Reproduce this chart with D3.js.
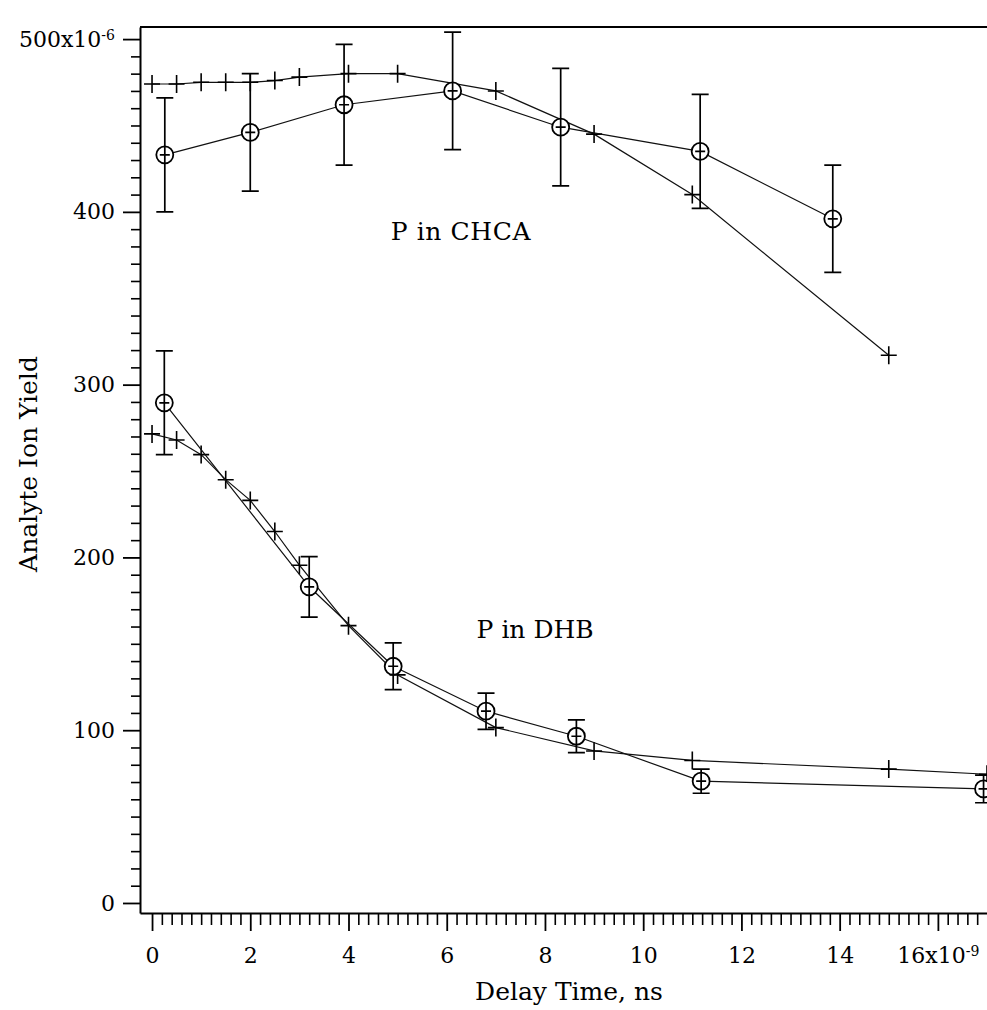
<!DOCTYPE html>
<html>
<head>
<meta charset="utf-8">
<script src="https://cdn.jsdelivr.net/npm/d3@7"></script>
<style>
  html, body { margin: 0; padding: 0; background: #fff; }
  svg { display: block; }
  text { font-family: "DejaVu Serif", "Liberation Serif", serif; fill: #000; }
</style>
</head>
<body>
<div id="chart"></div>
<script>
// Delay time (ns) and analyte ion yield (x10^-6) for P in two matrices.
// Circles carry ± error bars, crosses are the model curve.
const chcaCircleTime  = [0.26, 2.0, 3.91, 6.12, 8.32, 11.16, 13.86];
const chcaCircleYield = [433, 446, 462, 470, 449, 435, 396];
const chcaCircleErr   = [33, 34, 35, 34, 34, 33, 31];

const chcaCrossTime  = [0, 0.5, 1, 1.5, 2, 2.5, 3, 4, 5, 7, 9, 11, 15];
const chcaCrossYield = [474, 474, 475, 475, 475, 476, 478, 480, 480, 470, 445, 410, 317];

const dhbCircleTime  = [0.25, 3.2, 4.91, 6.8, 8.64, 11.18, 16.93];
const dhbCircleYield = [289.5, 183, 137, 111, 96.5, 70.5, 66];
const dhbCircleErr   = [30, 17.5, 13.5, 10.5, 9.5, 7, 8];

const dhbCrossTime  = [0, 0.5, 1, 1.5, 2, 2.5, 3, 4, 5, 7, 9, 11, 15, 17];
const dhbCrossYield = [271.5, 268, 259.5, 245, 233, 215, 195.5, 160.5, 132, 101.5, 88, 82.5, 77.5, 74.5];

const yMajorTicks = [0, 100, 200, 300, 400, 500];
const xMajorTicks = [0, 2, 4, 6, 8, 10, 12, 14, 16];
const yTitle = "Analyte Ion Yield";
const xTitle = "Delay Time, ns";
const seriesLabels = ["P in CHCA", "P in DHB"];

const W = 987, H = 1010;
const svg = d3.select("#chart").append("svg").attr("width", W).attr("height", H);

const padL = 140, padR = 987, padT = 27, padB = 913;
const x = d3.scaleLinear().domain([-0.245, 17.0]).range([padL, padR]);
const y = d3.scaleLinear().domain([-5.8, 507]).range([padB, padT]);

const FS = 22;      // tick labels
const FT = 25;      // titles and annotations

// minor ticks
const yMinor = d3.range(0, 501, 10).filter(v => v % 100 !== 0);
svg.append("g").attr("transform", `translate(${padL},0)`)
  .call(d3.axisLeft(y).tickValues(yMinor).tickSize(9).tickSizeOuter(0).tickFormat(""))
  .call(g => g.select(".domain").remove())
  .call(g => g.selectAll("line").attr("stroke", "#000").attr("stroke-width", 1.6));

const xMinor = d3.range(0, 85).map(i => i * 0.2).filter(v => Math.abs(v / 2 - Math.round(v / 2)) > 1e-6);
svg.append("g").attr("transform", `translate(0,${padB})`)
  .call(d3.axisBottom(x).tickValues(xMinor).tickSize(12).tickSizeOuter(0).tickFormat(""))
  .call(g => g.select(".domain").remove())
  .call(g => g.selectAll("line").attr("stroke", "#000").attr("stroke-width", 1.6));

// major axes
const yAxis = svg.append("g").attr("transform", `translate(${padL},0)`)
  .call(d3.axisLeft(y).tickValues(yMajorTicks).tickSize(17).tickSizeOuter(0).tickPadding(8)
    .tickFormat(d => d === 500 ? "" : d));
yAxis.select(".domain").attr("stroke", "#000").attr("stroke-width", 2);
yAxis.selectAll("line").attr("stroke", "#000").attr("stroke-width", 1.8);
yAxis.selectAll("text").attr("font-size", FS).style("font-family", '"DejaVu Serif", serif').attr("fill", "#000");
yAxis.selectAll(".tick").filter(d => d === 500).select("text")
  .call(t => {
    t.append("tspan").text("500x10");
    t.append("tspan").attr("dy", "-0.5em").attr("font-size", 14).text("-6");
  });

const xAxis = svg.append("g").attr("transform", `translate(0,${padB})`)
  .call(d3.axisBottom(x).tickValues(xMajorTicks).tickSize(18).tickSizeOuter(0).tickPadding(16)
    .tickFormat(d => d === 16 ? "" : d));
xAxis.select(".domain").attr("stroke", "#000").attr("stroke-width", 2);
xAxis.selectAll("line").attr("stroke", "#000").attr("stroke-width", 1.8);
xAxis.selectAll("text").attr("font-size", FS).style("font-family", '"DejaVu Serif", serif').attr("fill", "#000");
xAxis.selectAll(".tick").filter(d => d === 16).select("text")
  .call(t => {
    t.append("tspan").text("16x10");
    t.append("tspan").attr("dy", "-0.5em").attr("font-size", 14).text("-9");
  });

// top frame
svg.append("line").attr("x1", padL).attr("x2", padR).attr("y1", padT).attr("y2", padT)
  .attr("stroke", "#000").attr("stroke-width", 2);

// titles
svg.append("text").attr("transform", `translate(37,464) rotate(-90)`)
  .attr("text-anchor", "middle").attr("font-size", FT).text(yTitle);
svg.append("text").attr("x", 569).attr("y", 1000)
  .attr("text-anchor", "middle").attr("font-size", FT).text(xTitle);

// plot area
svg.append("defs").append("clipPath").attr("id", "plot")
  .append("rect").attr("x", padL).attr("y", padT).attr("width", padR - padL + 20).attr("height", padB - padT);
const plot = svg.append("g").attr("clip-path", "url(#plot)");

const line = d3.line().x(d => x(d[0])).y(d => y(d[1]));
const zip = (a, b) => a.map((v, i) => [v, b[i]]);

function drawCrosses(times, vals) {
  const pts = zip(times, vals);
  plot.append("path").datum(pts).attr("d", line)
    .attr("fill", "none").attr("stroke", "#111").attr("stroke-width", 1.2);
  plot.append("g").selectAll("path").data(pts).join("path")
    .attr("d", d => `M${x(d[0]) - 8},${y(d[1])}H${x(d[0]) + 8}M${x(d[0])},${y(d[1]) - 9}V${y(d[1]) + 9}`)
    .attr("stroke", "#000").attr("stroke-width", 1.6).attr("fill", "none");
}

function drawCircles(times, vals, errs) {
  const pts = times.map((t, i) => ({ t, v: vals[i], e: errs[i] }));
  plot.append("path").datum(pts.map(p => [p.t, p.v])).attr("d", line)
    .attr("fill", "none").attr("stroke", "#111").attr("stroke-width", 1.2);
  const g = plot.append("g").selectAll("g").data(pts).join("g");
  g.append("circle").attr("cx", d => x(d.t)).attr("cy", d => y(d.v)).attr("r", 8.5)
    .attr("fill", "#fff").attr("stroke", "#000").attr("stroke-width", 1.8);
  g.append("path")
    .attr("d", d => {
      const cx = x(d.t), hi = y(d.v + d.e), lo = y(d.v - d.e);
      return `M${cx},${hi}V${lo}M${cx - 8.5},${hi}H${cx + 8.5}M${cx - 8.5},${lo}H${cx + 8.5}` +
             `M${cx - 5},${y(d.v)}H${cx + 5}`;
    })
    .attr("stroke", "#000").attr("stroke-width", 1.7).attr("fill", "none");
}

drawCrosses(chcaCrossTime, chcaCrossYield);
drawCircles(chcaCircleTime, chcaCircleYield, chcaCircleErr);
drawCrosses(dhbCrossTime, dhbCrossYield);
drawCircles(dhbCircleTime, dhbCircleYield, dhbCircleErr);

// series annotations
svg.append("text").attr("x", x(6.29)).attr("y", y(389) + 9)
  .attr("text-anchor", "middle").attr("font-size", FT).attr("letter-spacing", 0.6).text(seriesLabels[0]);
svg.append("text").attr("x", x(7.8)).attr("y", y(158.6) + 9)
  .attr("text-anchor", "middle").attr("font-size", FT).text(seriesLabels[1]);
</script>
</body>
</html>
